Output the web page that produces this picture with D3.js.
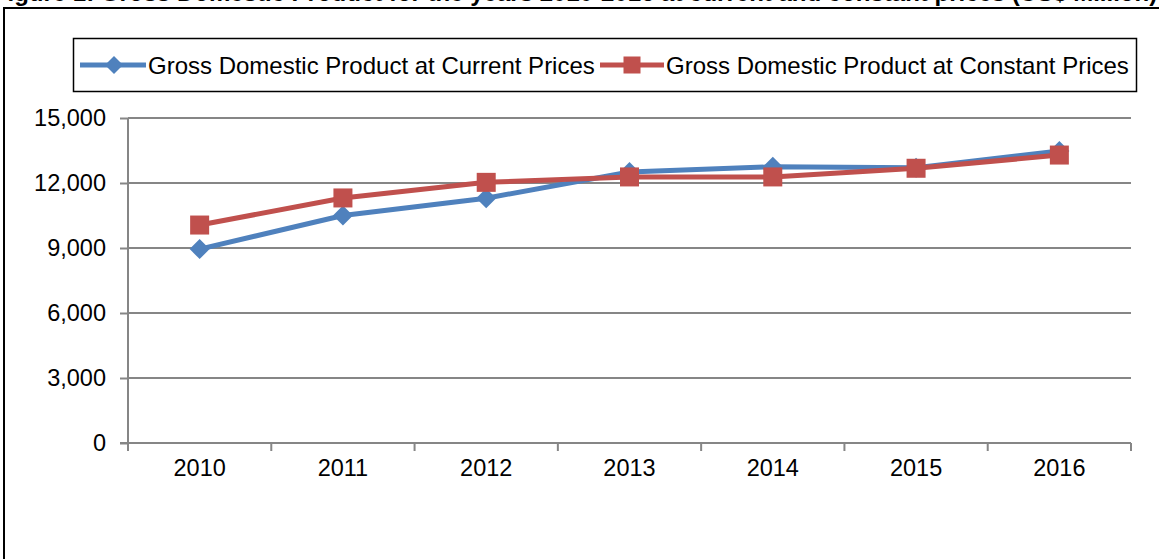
<!DOCTYPE html>
<html>
<head>
<meta charset="utf-8">
<script src="https://cdn.jsdelivr.net/npm/d3@7"></script>
<style>
  body { margin: 0; background: #fff; overflow: hidden; }
  text { font-family: "Liberation Sans", Arial, sans-serif; }
</style>
</head>
<body>
<script>
var years = ["2010", "2011", "2012", "2013", "2014", "2015", "2016"];
var currentPrices = [8950, 10500, 11300, 12510, 12750, 12700, 13480];
var constantPrices = [10060, 11310, 12030, 12280, 12280, 12680, 13290];
var yTicks = [0, 3000, 6000, 9000, 12000, 15000];
var seriesNames = ["Gross Domestic Product at Current Prices", "Gross Domestic Product at Constant Prices"];
var titleText = "Figure 1: Gross Domestic Product for the years 2010-2016 at current and constant prices (US$ Million)";

var W = 1159, H = 559;
var margin = { top: 118, right: 28, bottom: 116, left: 128 },
  width = W - margin.left - margin.right,
  height = H - margin.top - margin.bottom;

var blue = "#4F81BD", red = "#C0504D", grid = "#868686";

var svg = d3.select("body").append("svg")
  .attr("width", W)
  .attr("height", H);

// title, mostly cut off at the top like the source
svg.append("text")
  .attr("x", 575)
  .attr("y", 1)
  .attr("text-anchor", "middle")
  .style("font-weight", "bold")
  .style("font-size", "24px")
  .text(titleText);

// outer chart border
svg.append("rect")
  .attr("x", 4).attr("y", 8)
  .attr("width", W + 10).attr("height", H + 10)
  .attr("fill", "none")
  .attr("stroke", "#000")
  .attr("stroke-width", 2);

var x = d3.scaleBand().domain(years).range([0, width]);
var y = d3.scaleLinear().domain([0, 15000]).range([height, 0]);

var g = svg.append("g")
  .attr("transform", "translate(" + margin.left + "," + margin.top + ")");

// gridlines
g.selectAll(".grid").data(yTicks.slice(1)).enter()
  .append("line")
  .attr("x1", 0).attr("x2", width)
  .attr("y1", function (d) { return y(d); })
  .attr("y2", function (d) { return y(d); })
  .attr("stroke", grid).attr("stroke-width", 2);

// y axis
var yAxis = g.append("g")
  .call(d3.axisLeft(y).tickValues(yTicks).tickSize(8).tickPadding(14).tickFormat(d3.format(",")));
yAxis.selectAll("line").attr("stroke", grid).attr("stroke-width", 2);
yAxis.select(".domain").attr("stroke", grid).attr("stroke-width", 2).attr("d", "M0,0V" + height);
yAxis.selectAll("text").style("font-size", "23.5px").attr("fill", "#000")
  .style("font-family", "'Liberation Sans', Arial, sans-serif");

// x axis with ticks at category boundaries
var xg = g.append("g").attr("transform", "translate(0," + height + ")");
xg.append("line").attr("x1", -8).attr("x2", width).attr("stroke", grid).attr("stroke-width", 2);
var bounds = years.map(function (d) { return x(d); }).concat([width]);
xg.selectAll(".xt").data(bounds).enter()
  .append("line")
  .attr("x1", function (d) { return d; }).attr("x2", function (d) { return d; })
  .attr("y1", 0).attr("y2", 8)
  .attr("stroke", grid).attr("stroke-width", 2);
xg.selectAll(".xl").data(years).enter()
  .append("text")
  .attr("x", function (d) { return x(d) + x.bandwidth() / 2; })
  .attr("y", 33)
  .attr("text-anchor", "middle")
  .style("font-size", "23.5px")
  .text(function (d) { return d; });

var line = d3.line()
  .x(function (d, i) { return x(years[i]) + x.bandwidth() / 2; })
  .y(function (d) { return y(d); });

function diamond(sel, cx, cy, r) {
  sel.append("path")
    .attr("d", "M" + cx + "," + (cy - r) + "L" + (cx + r) + "," + cy + "L" + cx + "," + (cy + r) + "L" + (cx - r) + "," + cy + "Z")
    .attr("fill", blue);
}
function square(sel, cx, cy, s) {
  sel.append("rect")
    .attr("x", cx - s / 2).attr("y", cy - s / 2)
    .attr("width", s).attr("height", s)
    .attr("fill", red);
}

// blue series
g.append("path").datum(currentPrices)
  .attr("d", line).attr("fill", "none")
  .attr("stroke", blue).attr("stroke-width", 5).attr("stroke-linejoin", "round");
currentPrices.forEach(function (d, i) {
  diamond(g, x(years[i]) + x.bandwidth() / 2, y(d), 10);
});

// red series
g.append("path").datum(constantPrices)
  .attr("d", line).attr("fill", "none")
  .attr("stroke", red).attr("stroke-width", 5).attr("stroke-linejoin", "round");
constantPrices.forEach(function (d, i) {
  square(g, x(years[i]) + x.bandwidth() / 2, y(d), 19);
});

// legend
var lg = svg.append("g");
lg.append("rect")
  .attr("x", 73.5).attr("y", 38.5)
  .attr("width", 1063).attr("height", 53)
  .attr("fill", "#fff").attr("stroke", "#000").attr("stroke-width", 1.5);

lg.append("line").attr("x1", 80).attr("x2", 146).attr("y1", 65).attr("y2", 65)
  .attr("stroke", blue).attr("stroke-width", 5);
diamond(lg, 114, 65, 9);
lg.append("text").attr("x", 148).attr("y", 73.5)
  .style("font-size", "24px").text(seriesNames[0]);

lg.append("line").attr("x1", 600).attr("x2", 664).attr("y1", 65).attr("y2", 65)
  .attr("stroke", red).attr("stroke-width", 5);
square(lg, 632, 65, 17);
lg.append("text").attr("x", 666).attr("y", 73.5)
  .style("font-size", "24px").text(seriesNames[1]);
</script>
</body>
</html>
